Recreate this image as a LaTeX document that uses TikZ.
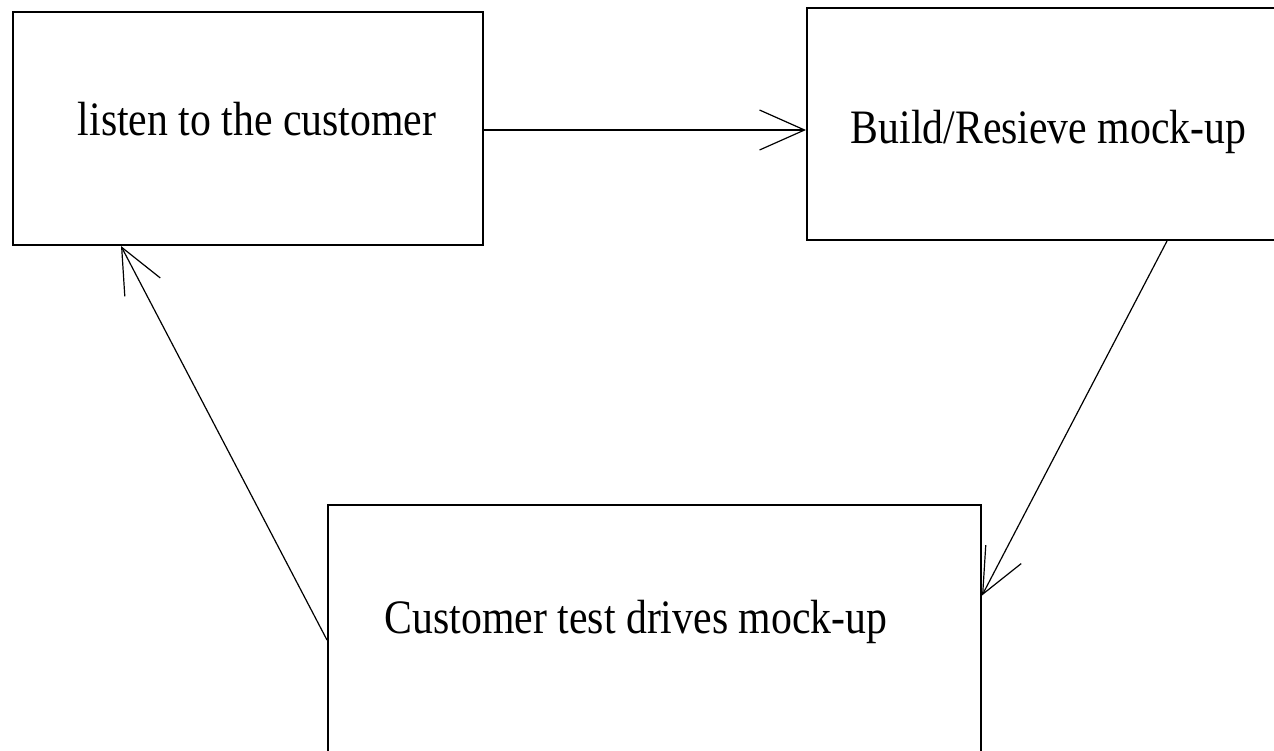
\documentclass[tikz,border=0pt]{standalone}
\usepackage{fontspec}
\setmainfont{Liberation Serif}[FakeStretch=0.87]
\usetikzlibrary{arrows.meta}

\tikzset{
  stage/.style={draw=black, line width=2pt, rectangle, inner sep=0pt},
  caption/.style={anchor=base, inner sep=0pt,
    font=\fontsize{48}{50}\selectfont},
  flow/.style={draw=black, line width=1.2pt,
    -{Straight Barb[length=45pt,width=40pt]}},
}

\begin{document}
\begin{tikzpicture}[x=1pt, y=-1pt]
  \useasboundingbox (0,0) rectangle (1274,750);
  \clip (0,0) rectangle (1274,750);
  \fill[white] (0,0) rectangle (1274,750);

  % the three stages of the cycle
  \node[stage, minimum width=470pt, minimum height=233pt] (listen) at (248,128.5) {};
  \node[stage, minimum width=483pt, minimum height=232pt] (build) at (1048.5,124) {};
  \node[stage, minimum width=653pt, minimum height=255pt] (test) at (654.5,632.5) {};

  \node[caption] (tlisten) at (257,135) {listen to the customer};
  \node[caption] (tbuild) at (1048.5,143) {Build/Resieve mock-up};
  \node[caption] (ttest) at (636,633) {Customer test drives mock-up};

  % connectors between the stages
  \draw[flow] ([yshift=-1.5pt]listen.east) -- ([yshift=-6pt]build.west);
  \draw[flow] ([xshift=118.5pt]build.south) -- ([yshift=37pt]test.east);
  \draw[flow] ([yshift=-7.5pt]test.west) -- ([xshift=-127pt]listen.south);
\end{tikzpicture}
\end{document}
